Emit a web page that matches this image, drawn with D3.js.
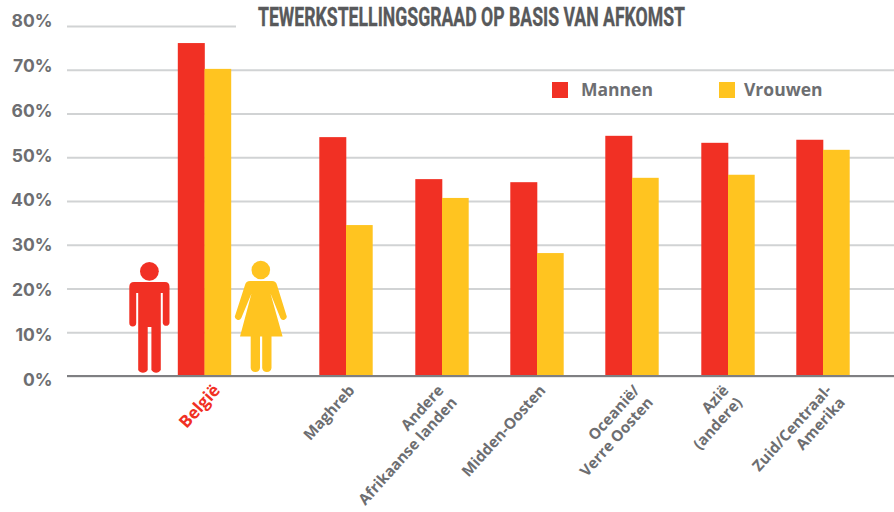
<!DOCTYPE html>
<html><head><meta charset="utf-8">
<script src="https://cdn.jsdelivr.net/npm/d3@7/dist/d3.min.js"></script>
<style>html,body{margin:0;padding:0;background:#fff;overflow:hidden}svg{display:block}</style>
</head><body><svg id="c" width="894" height="512"></svg>
<script>
const titleText = "TEWERKSTELLINGSGRAAD OP BASIS VAN AFKOMST";
const categories = ["België","Maghreb","Andere\nAfrikaanse landen","Midden-Oosten","Oceanië/\nVerre Oosten","Azië\n(andere)","Zuid/Centraal-\nAmerika"];
const mannen = [76.1,54.6,45.0,44.3,54.9,53.3,54.0];
const vrouwen = [70.2,34.5,40.7,28.1,45.3,46.0,51.7];
const seriesNames = ["Mannen","Vrouwen"];
const yTicks = [0,10,20,30,40,50,60,70,80];

const RED="#f13024", YEL="#ffc420", TXT="#6d6e71", GRID="#d1d3d4", AXIS="#7f7f82";
const FONT="'Open Sans',sans-serif";
const svg=d3.select("#c");
const y=d3.scaleLinear().domain([0,80]).range([376,26]);
// the printed tick labels run on a slightly wider pitch than the grid
const yLabel=d3.scaleLinear().domain([0,80]).range([379,20.5]);
const color=d3.scaleOrdinal().domain(seriesNames).range([RED,YEL]);
// six regularly spaced groups, with België set apart on the left
const x=d3.scaleOrdinal().domain(categories).range([204.5,346,442,537,632,728,823]);
const labelOffset=d3.scaleOrdinal().domain(categories).range([12,5,-2,5,4,-3,5]);
const bw=26.7;

// grid + y axis
const ax=svg.append("g").attr("transform","translate(67,0)")
  .call(d3.axisLeft(y).tickValues(yTicks).tickFormat(d=>d+"%").tickSize(-827).tickPadding(14));
ax.select(".domain").remove();
ax.selectAll(".tick line").attr("stroke",GRID).attr("stroke-width",2)
  .filter(d=>d===80).attr("x2",169);
ax.selectAll(".tick text").attr("fill",TXT)
  .style("font-family","Inter,sans-serif").style("font-weight",700).style("font-size","17.5px")
  .attr("x",-14.5).attr("dy","0.35em")
  .attr("y",d=>yLabel(d)-y(d));

// person icons
const man=svg.append("g").attr("fill",RED);
man.append("circle").attr("cx",149.4).attr("cy",271.3).attr("r",9.4);
man.append("path").attr("d","M134 282H165Q169.5 282 169.5 287V323A3.4 3.4 0 0 1 162.8 323V293H160.8V370A5.5 5.5 0 0 1 151.4 370V327H147.7V370A5.5 5.5 0 0 1 138.2 370V293H136.2V323A3.4 3.4 0 0 1 129.3 323V287Q129.3 282 134 282Z");
const woman=svg.append("g").attr("fill",YEL);
woman.append("circle").attr("cx",260.8).attr("cy",270).attr("r",9.3);
woman.append("path").attr("d","M250 281H272Q276 281 277 285L286.3 315A3.2 3.2 0 0 1 280.4 318L270.5 293.5L282.6 336.5H271.5V368A4.7 4.7 0 0 1 262.2 368V336.5H260V368A4.7 4.7 0 0 1 250.7 368V336.5H240L251.5 293.5L241.3 318A3.2 3.2 0 0 1 235.3 315L245 285Q246 281 250 281Z");

// bars
const groups=svg.append("g").selectAll("g").data(categories).join("g");
groups.append("rect").attr("x",d=>x(d)-bw).attr("width",bw+0.3)
  .attr("y",(d,i)=>y(mannen[i])).attr("height",(d,i)=>y(0)-y(mannen[i])).attr("fill",color("Mannen"));
groups.append("rect").attr("x",d=>x(d)).attr("width",bw)
  .attr("y",(d,i)=>y(vrouwen[i])).attr("height",(d,i)=>y(0)-y(vrouwen[i])).attr("fill",color("Vrouwen"));

// baseline
svg.append("line").attr("x1",67).attr("x2",894).attr("y1",376).attr("y2",376).attr("stroke",AXIS).attr("stroke-width",2);

// category labels
const lab=svg.append("g").selectAll("text").data(categories).join("text")
  .attr("transform",d=>`translate(${x(d)+labelOffset(d)},387) rotate(-48)`)
  .attr("text-anchor","end").attr("fill",(d,i)=>i===0?RED:TXT)
  .style("font-family",FONT).style("font-weight",700).style("font-size",(d,i)=>i===0?"17px":"15.2px");
lab.each(function(d){
  const t=d3.select(this);
  d.split("\n").forEach((s,i)=>t.append("tspan").attr("x",0).attr("y",i*18+6).text(s));
});

// title
svg.append("text").text(titleText).attr("x",258).attr("y",26).attr("fill","#58595b")
  .attr("stroke","#58595b").attr("stroke-width",0.35)
  .attr("textLength",427).attr("lengthAdjust","spacingAndGlyphs")
  .style("font-family","'Liberation Sans Narrow','Roboto',sans-serif").style("font-weight",700).style("font-size","26px");

// legend
const lg=svg.append("g").selectAll("g").data(seriesNames).join("g")
  .attr("transform",(d,i)=>`translate(${[552,719][i]},82)`);
lg.append("rect").attr("width",16).attr("height",16).attr("fill",d=>color(d));
lg.append("text").text(d=>d).attr("x",(d,i)=>[29,25][i]).attr("y",13.5).attr("fill",TXT)
  .style("font-family",FONT).style("font-weight",700).style("font-size","17.5px");
</script></body></html>
